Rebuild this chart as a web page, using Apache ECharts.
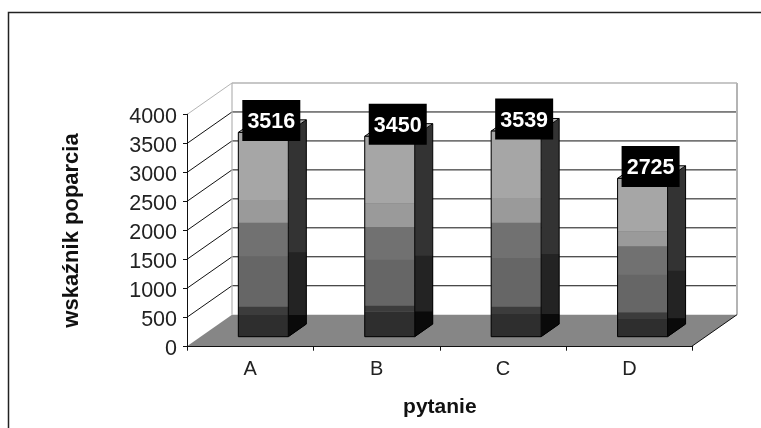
<!DOCTYPE html>
<html>
<head>
<meta charset="utf-8">
<style>html,body{margin:0;padding:0;background:#fff}#c{width:761px;height:428px}</style>
<script src="https://cdn.jsdelivr.net/npm/echarts@6/dist/echarts.min.js"></script>
</head>
<body>
<div id="c"></div>
<script>
const categories = ['A', 'B', 'C', 'D'];
const yTicks = [0, 500, 1000, 1500, 2000, 2500, 3000, 3500, 4000];
const totals = [3516, 3450, 3539, 2725];
const seg1 = [375, 432, 392, 317];
const seg2 = [144, 104, 127, 104];
const seg3 = [865, 790, 836, 646];
const seg4 = [576, 560, 605, 490];
const seg5 = [393, 409, 416, 260];
const seg6 = [1163, 1155, 1163, 908];
const segments = [seg1, seg2, seg3, seg4, seg5, seg6];
const segColors = ['#2e2e2e', '#3c3c3c', '#666666', '#717171', '#9a9a9a', '#a6a6a6'];

const FONT = '"Liberation Sans", Arial, sans-serif';
const wallDx = 45, wallDy = 31.5;      // depth of the 3D box
const barW = 50, sideDx = 18, sideDy = 12.6;

const chart = echarts.init(document.getElementById('c'), null, {renderer: 'canvas'});

function wallItem(params, api) {
  const v = api.value(0);
  const p = api.coord([0, v]);
  const rect = params.coordSys;
  const x0 = rect.x, x1 = rect.x + rect.width, y = p[1];
  const kids = [];
  if (v === 0) {
    kids.push({type: 'polygon', z2: 1, shape: {points: [[x0, y], [x1, y], [x1 - wallDx, y + wallDy], [x0 - wallDx, y + wallDy]]},
      style: {fill: '#868686', stroke: null}});
    kids.push({type: 'line', z2: 3, shape: {x1: x0, y1: rect.y, x2: x0, y2: y}, style: {stroke: '#b4b4b4', lineWidth: 1.2}});
    kids.push({type: 'line', z2: 3, shape: {x1: x1, y1: rect.y, x2: x1, y2: y}, style: {stroke: '#b4b4b4', lineWidth: 2}});
    kids.push({type: 'line', z2: 4, shape: {x1: x1, y1: y, x2: x1 - wallDx, y2: y + wallDy}, style: {stroke: '#111', lineWidth: 1}});
  } else {
    const top = v === yTicks[yTicks.length - 1];
    const col = top ? '#b4b4b4' : '#111';
    kids.push({type: 'line', z2: 2, shape: {x1: x0, y1: y, x2: x1, y2: y}, style: {stroke: col, lineWidth: top ? 1.5 : 1}});
    kids.push({type: 'line', z2: 2, shape: {x1: x0, y1: y, x2: x0 - wallDx, y2: y + wallDy}, style: {stroke: col, lineWidth: 1}});
  }
  return {type: 'group', children: kids};
}

function sideItem(params, api) {
  const i = params.dataIndex;
  const c = api.value(0);
  const bottom = api.coord([c, 0]);
  const R = bottom[0] + barW / 2;
  const yb = bottom[1];
  const y1 = api.coord([c, seg1[i]])[1];
  const y2 = api.coord([c, seg1[i] + seg2[i] + seg3[i]])[1] - 4;
  const yt = api.coord([c, totals[i]])[1];
  const X = R + sideDx, L = R - barW;
  const kids = [
    {type: 'polygon', shape: {points: [[R, yb], [X, yb - sideDy], [X, yt - sideDy], [R, yt]]}, style: {fill: '#333333'}},
    {type: 'polygon', shape: {points: [[R, yb], [X, yb - sideDy], [X, y2], [R, y2]]}, style: {fill: '#232323'}},
    {type: 'polygon', shape: {points: [[R, yb], [X, yb - sideDy], [X, y1], [R, y1]]}, style: {fill: '#0a0a0a'}},
    {type: 'polygon', shape: {points: [[L, yt], [L + sideDx, yt - sideDy], [X, yt - sideDy], [R, yt]]}, style: {fill: '#b4b4b4', stroke: '#000', lineWidth: 1}},
    {type: 'polyline', shape: {points: [[R, yb], [X, yb - sideDy], [X, yt - sideDy]]}, style: {fill: null, stroke: '#000', lineWidth: 1}},
    {type: 'rect', shape: {x: L, y: yt, width: barW, height: yb - yt}, style: {fill: '#6a6a6a'}}
  ];
  return {type: 'group', children: kids};
}

function outlineItem(params, api) {
  const i = params.dataIndex;
  const c = api.value(0);
  const b = api.coord([c, 0]);
  const yt = api.coord([c, totals[i]])[1];
  return {type: 'rect', shape: {x: b[0] - barW / 2, y: yt, width: barW, height: b[1] - yt},
    style: {fill: null, stroke: '#000', lineWidth: 1}};
}

function labelItem(params, api) {
  const c = api.value(0);
  const p = api.coord([c, api.value(1)]);
  return {type: 'group', x: p[0] + 8, y: p[1] - 12, children: [
    {type: 'rect', shape: {x: -29, y: -20.5, width: 58, height: 41}, style: {fill: '#000'}},
    {type: 'text', style: {text: String(api.value(1)), x: 0, y: 2, align: 'center', verticalAlign: 'middle',
      fill: '#fff', font: 'bold 21.5px ' + FONT}}
  ]};
}

const barSeries = segments.map((s, k) => ({
  type: 'bar', xAxisIndex: 2, yAxisIndex: 2, stack: 'total', barWidth: barW, z: 3,
  data: s, itemStyle: {color: segColors[k]}, silent: true
}));

chart.setOption({
  animation: false,
  backgroundColor: '#fff',
  tooltip: {show: false},
  graphic: [
    {type: 'polyline', silent: true, shape: {points: [[8.5, 428], [8.5, 12.5], [761, 12.5]]},
     style: {fill: null, stroke: '#222', lineWidth: 1.5}}
  ],
  grid: [
    {left: 187, width: 505.7, top: 114.3, height: 232.4},   // front plane with the axes
    {left: 232, width: 505, top: 83, height: 231.7},        // back wall
    {left: 200.1, width: 505.7, top: 104.3, height: 232.4}  // plane of the bars
  ],
  xAxis: [
    {gridIndex: 0, type: 'category', data: categories, z: 6,
     name: 'pytanie', nameLocation: 'middle', nameGap: 50,
     nameTextStyle: {fontFamily: FONT, fontWeight: 'bold', fontSize: 21, color: '#111'},
     axisLine: {lineStyle: {color: '#111', width: 1}},
     axisTick: {show: true, length: 4, lineStyle: {color: '#111'}},
     axisLabel: {fontFamily: FONT, fontSize: 20, color: '#222', margin: 13},
     splitLine: {show: false}},
    {gridIndex: 1, type: 'category', data: categories, show: false},
    {gridIndex: 2, type: 'category', data: categories, show: false}
  ],
  yAxis: [
    {gridIndex: 0, type: 'value', min: 0, max: 4000, interval: 500, z: 6,
     name: 'wskaźnik poparcia', nameLocation: 'middle', nameGap: 104, nameRotate: 90,
     nameTextStyle: {fontFamily: FONT, fontWeight: 'bold', fontSize: 22, color: '#111'},
     axisLine: {show: true, lineStyle: {color: '#111', width: 1}},
     axisTick: {show: true, length: 4, lineStyle: {color: '#111'}},
     axisLabel: {fontFamily: FONT, fontSize: 21.5, color: '#222', margin: 10, verticalAlign: 'top', lineHeight: 5, formatter: v => String(v)},
     splitLine: {show: false}},
    {gridIndex: 1, type: 'value', min: 0, max: 4000, interval: 500, show: false, splitLine: {show: false}},
    {gridIndex: 2, type: 'value', min: 0, max: 4000, interval: 500, show: false, splitLine: {show: false}}
  ],
  series: [
    {type: 'custom', xAxisIndex: 1, yAxisIndex: 1, z: 1, silent: true, clip: false,
     data: yTicks.map(v => [v]), encode: {y: 0}, renderItem: wallItem},
    {type: 'custom', xAxisIndex: 2, yAxisIndex: 2, z: 2, silent: true, clip: false,
     data: categories.map((_, i) => [i, totals[i]]), encode: {x: 0, y: 1}, renderItem: sideItem},
    ...barSeries,
    {type: 'custom', xAxisIndex: 2, yAxisIndex: 2, z: 4, silent: true, clip: false,
     data: categories.map((_, i) => [i, totals[i]]), encode: {x: 0, y: 1}, renderItem: outlineItem},
    {type: 'custom', xAxisIndex: 2, yAxisIndex: 2, z: 5, silent: true, clip: false,
     data: categories.map((_, i) => [i, totals[i]]), encode: {x: 0, y: 1}, renderItem: labelItem}
  ]
});
</script>
</body>
</html>
